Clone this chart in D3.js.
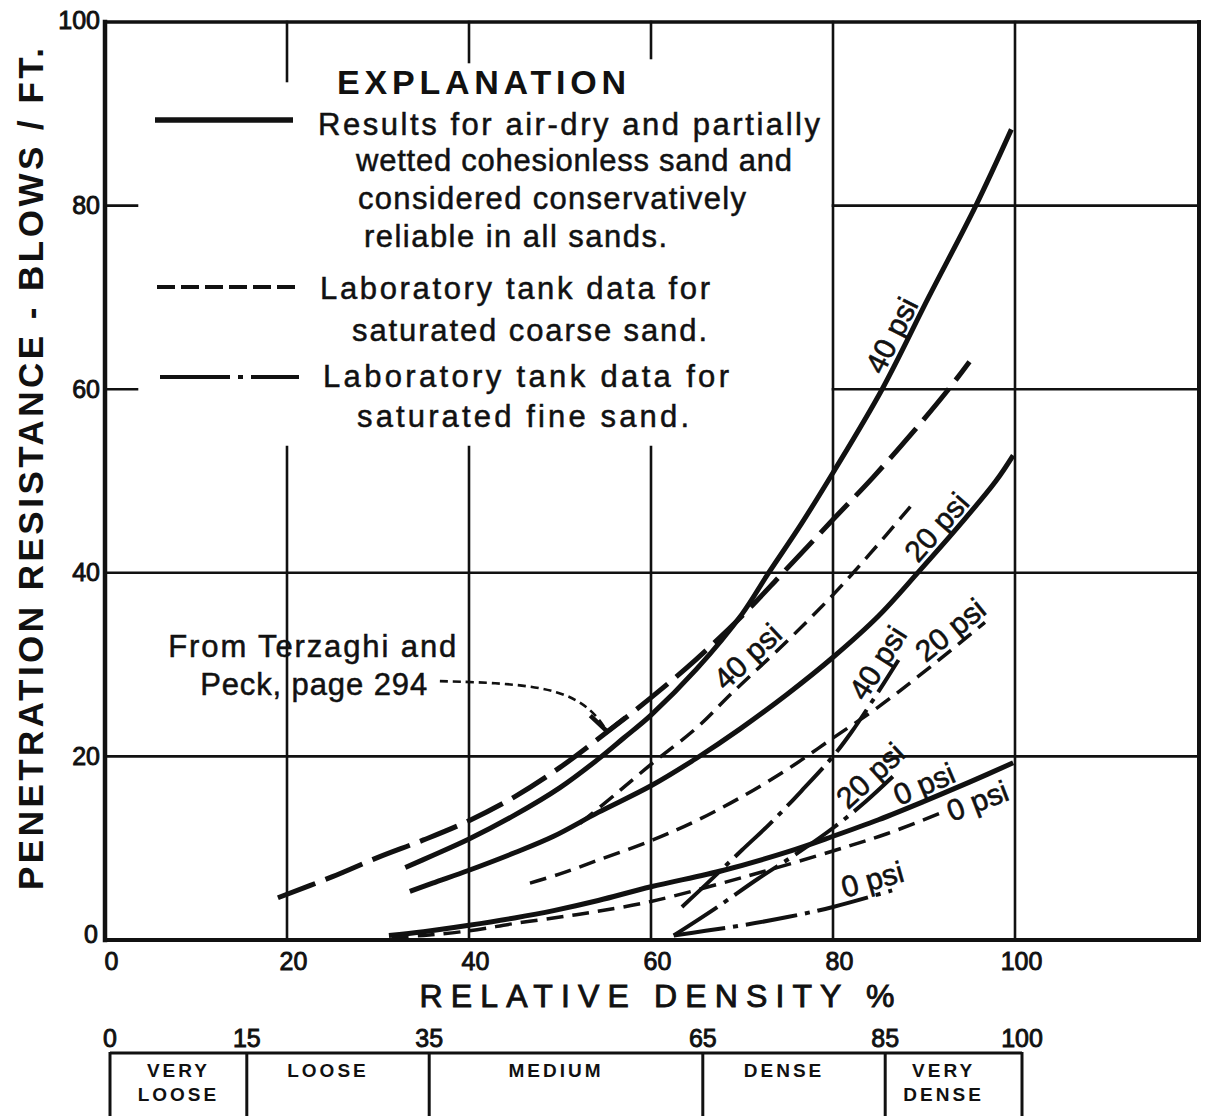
<!DOCTYPE html>
<html><head><meta charset="utf-8">
<script src="https://cdn.jsdelivr.net/npm/d3@7"></script>
<style>
body{margin:0;background:#fff;}
svg{display:block;background:#fff;}
text{font-family:"Liberation Sans",Arial,sans-serif;fill:#111;}
</style></head><body>
<svg id="chart" width="1209" height="1116"></svg>
<script>
// ---------------- DATA ----------------
const xTicks = [0, 20, 40, 60, 80, 100];
const yTicks = [0, 20, 40, 60, 80, 100];

// Air-dry / partially wetted sand (solid)
const solid40 = [[33,7.9],[36,9.2],[40,11],[45,13.6],[50,16.6],[54.2,19.7],[57,22],[60,24.5],[65,29.5],[70,35.5],[72.8,39.8],[76.5,45.3],[80,50.9],[85.4,60],[90.5,70],[95.7,80],[99.6,88.3]];
const solid20 = [[33.5,5.3],[36,6.2],[40,7.6],[45,9.5],[49.3,11.3],[54.2,13.9],[60,16.8],[65,19.8],[69.8,23],[75,26.8],[80,30.8],[85,35.3],[89.4,40.1],[94,45.3],[97.9,50],[99.8,52.8]];
const solid0  = [[31.2,0.5],[35,0.9],[40,1.6],[45,2.4],[49.3,3.2],[54.2,4.3],[60,5.8],[68,7.6],[75,9.6],[80,11.3],[85,13.1],[90,15.1],[95,17.2],[99.8,19.3]];
// Terzaghi and Peck (long dash)
const terzaghi = [[19,4.6],[25,6.9],[30,9],[35,10.9],[40,13],[45,15.6],[50,18.8],[55.1,22.6],[60,26.4],[65,30.6],[70,35.3],[74.5,40],[80,45.8],[84.4,50.4],[88.5,55],[92.7,60],[95,63]];
// Saturated coarse sand (short dash)
const coarse40 = [[52.2,12.7],[56,15.8],[60.2,19.3],[65,23.1],[69,27],[75,32.6],[80,37.6],[84,42],[88.5,47.2]];
const coarse20 = [[46.7,6.2],[50,7.2],[54.2,8.7],[60.2,10.9],[65,13],[69.8,15.5],[75,18.6],[80,22],[85,25.4],[90,29.2],[96.7,34.6]];
const coarse0  = [[31.5,0.3],[35,0.5],[40,1.0],[45,1.8],[50,2.5],[54,3.1],[60,4.2],[70,6.8],[80,9.7],[86,11.6],[92,13.9]];
// Saturated fine sand (dash-dot)
const fine40 = [[63.4,3.6],[66,6],[70,9.8],[73,12.6],[76.5,16.2],[80,20],[82,22.6],[84.5,26.3],[87.2,30.5]];
const fine20 = [[62.5,0.5],[67,3.4],[71.8,6.7],[76,9.4],[80,12.2],[83.5,15],[87,18.2]];
const fine0  = [[62.5,0.5],[66,1.0],[70,1.6],[75,2.5],[80,3.6],[86.5,5.4]];

// curve labels: text, curve, x position along the curve
const curveLabels = [
  {t:"40 psi", s:solid40,  at:88.0},
  {t:"40 psi", s:coarse40, at:71.8},
  {t:"20 psi", s:solid20,  at:92.7},
  {t:"40 psi", s:fine40,   at:86.4},
  {t:"20 psi", s:coarse20, at:94.0},
  {t:"20 psi", s:fine20,   at:85.3},
  {t:"0 psi",  s:solid0,   at:90.7},
  {t:"0 psi",  s:coarse0,  at:95.8, end:true},
  {t:"0 psi",  s:fine0,    at:84.8}
];
const noteLines = ["From Terzaghi and", "Peck, page 294"];
const notePoint = [[38.6,30.8],[35.4,26.7]];
const arrowPath = [[36.8,28.2],[44,28.0],[50,27.2],[53.5,25.2],[55.2,22.7]];

const legendTitle = "EXPLANATION";
const legendSolid = ["Results for air-dry and partially","wetted cohesionless sand and","considered conservatively","reliable in all sands."];
const legendDash  = ["Laboratory tank data for","saturated coarse sand."];
const legendDashDot = ["Laboratory tank data for","saturated fine sand."];

const xTitle = "RELATIVE DENSITY %";
const yTitle = "PENETRATION RESISTANCE - BLOWS / FT.";

const densityTicks = [0, 15, 35, 65, 85, 100];
const densityClasses = [
  {from:0, to:15, lines:["VERY","LOOSE"]},
  {from:15, to:35, lines:["LOOSE"]},
  {from:35, to:65, lines:["MEDIUM"]},
  {from:65, to:85, lines:["DENSE"]},
  {from:85, to:100, lines:["VERY","DENSE"]}
];

// ---------------- DRAW ----------------
const svg = d3.select('#chart');
const x = d3.scaleLinear().domain([0,100]).range([105,1015]);
const y = d3.scaleLinear().domain([0,100]).range([940,22]);
const xR = 1199, INK = "#111";
const FONT = '"Liberation Sans",Arial,sans-serif';

const g = svg.append('g');
function seg(x1,y1,x2,y2,w){
  g.append('line').attr('x1',x1).attr('y1',y1).attr('x2',x2).attr('y2',y2)
   .attr('stroke',INK).attr('stroke-width',w).attr('stroke-linecap','square');
}
// grid
const topStub = {20:81, 40:62, 60:58};
[20,40,60].forEach(v=>{ seg(x(v),y(100),x(v),topStub[v],2.6); seg(x(v),447,x(v),y(0),2.6); });
[80,100].forEach(v=> seg(x(v),y(100),x(v),y(0),2.6));
[80,60].forEach(v=>{ seg(x(0),y(v),137,y(v),2.6); seg(x(80),y(v),xR,y(v),2.6); });
[40,20].forEach(v=> seg(x(0),y(v),xR,y(v),2.6));
// frame
seg(x(0),y(100),xR,y(100),3.5);
seg(xR,y(100),xR,y(0),4);
seg(x(0),y(0),xR,y(0),4);
seg(x(0),y(100),x(0),y(0),4.5);

// axes (labels only)
const ax = svg.append('g').attr('transform',`translate(0,${y(0)})`)
  .call(d3.axisBottom(x).tickValues(xTicks).tickSize(0).tickPadding(12).tickFormat(d3.format('d')));
ax.select('.domain').remove();
ax.selectAll('text').attr('font-size',25).attr('dx',6).style('font-family',FONT).style('fill',INK).style('stroke',INK).style('stroke-width',0.9);
const ay = svg.append('g').attr('transform',`translate(${x(0)},0)`)
  .call(d3.axisLeft(y).tickValues(yTicks).tickSize(0).tickPadding(5).tickFormat(d3.format('d')));
ay.select('.domain').remove();
ay.selectAll('text').attr('font-size',25).style('font-family',FONT).style('fill',INK).style('stroke',INK).style('stroke-width',0.9);
ay.selectAll('.tick').filter(d=>d===0).select('text').attr('dy','0.1em').attr('dx',-2);
ay.selectAll('.tick').filter(d=>d===100).select('text').attr('dy','0.25em');

// titles
svg.append('text').attr('x',657).attr('y',1007).attr('text-anchor','middle')
  .attr('font-size',32).attr('textLength',475).attr('lengthAdjust','spacing')
  .style('stroke',INK).style('stroke-width',0.9).text(xTitle);
svg.append('text').attr('transform','translate(43,469) rotate(-90)').attr('text-anchor','middle')
  .attr('font-size',35).attr('font-weight','bold').attr('textLength',842).attr('lengthAdjust','spacing')
  .text(yTitle);

// curves
const line = d3.line().x(d=>x(d[0])).y(d=>y(d[1])).curve(d3.curveCatmullRom.alpha(0.5));
const curves = svg.append('g').attr('fill','none').attr('stroke',INK).attr('stroke-linecap','butt');
[solid40, solid20, solid0].forEach(s=> curves.append('path').attr('d',line(s)).attr('stroke-width',5));
curves.append('path').attr('d',line(terzaghi)).attr('stroke-width',5).attr('stroke-dasharray','40 11');
[coarse40, coarse20, coarse0].forEach(s=> curves.append('path').attr('d',line(s)).attr('stroke-width',3.5).attr('stroke-dasharray','17 9'));
[fine40, fine20, fine0].forEach(s=> curves.append('path').attr('d',line(s)).attr('stroke-width',4).attr('stroke-dasharray','52 8 5 8'));

// curve labels: placed beside their curve, rotated along local slope
function curvePoint(s, xv){
  let i = 0;
  while (i < s.length-2 && s[i+1][0] < xv) i++;
  const a = s[i], b = s[i+1];
  const t = (xv - a[0])/(b[0]-a[0]);
  const px = x(a[0]) + t*(x(b[0])-x(a[0]));
  const py = y(a[1]) + t*(y(b[1])-y(a[1]));
  const ang = Math.atan2(y(b[1])-y(a[1]), x(b[0])-x(a[0]));
  return {px, py, ang};
}
const lab = svg.append('g');
curveLabels.forEach(d=>{
  const p = curvePoint(d.s, d.at);
  const deg = p.ang*180/Math.PI;
  lab.append('text')
    .attr('transform',`translate(${p.px},${p.py}) rotate(${deg})`)
    .attr('x',0).attr('y', d.end ? 2 : -16)
    .attr('text-anchor','middle').attr('dominant-baseline','central')
    .attr('font-size',30).style('stroke',INK).style('stroke-width',0.6)
    .text(d.t);
});

// note with arrow
svg.append('g').selectAll('text').data(noteLines).join('text')
  .attr('x',(d,i)=>x(notePoint[i][0])).attr('y',(d,i)=>y(notePoint[i][1]))
  .attr('text-anchor','end').attr('font-size',31).style('stroke',INK).style('stroke-width',0.5)
  .attr('textLength',(d,i)=>i===0?288:227).attr('lengthAdjust','spacing')
  .text(d=>d);
const aline = d3.line().x(d=>x(d[0])).y(d=>y(d[1])).curve(d3.curveBasis);
svg.append('path').attr('d',aline(arrowPath)).attr('fill','none').attr('stroke',INK)
  .attr('stroke-width',2.6).attr('stroke-dasharray','8 5');
const tip = arrowPath[arrowPath.length-1];
const tx = x(tip[0]), ty = y(tip[1]);
svg.append('path').attr('d',`M${tx-17},${ty-16}L${tx},${ty}L${tx+18},${ty-14}`)
  .attr('fill','none').attr('stroke',INK).attr('stroke-width',4.5);

// legend
const lg = svg.append('g');
lg.append('text').attr('x',337).attr('y',94).attr('font-size',34).attr('font-weight','bold')
  .attr('textLength',289).attr('lengthAdjust','spacing').text(legendTitle);
lg.append('line').attr('x1',155).attr('x2',293).attr('y1',120).attr('y2',120).attr('stroke',INK).attr('stroke-width',5.5);
lg.append('line').attr('x1',157).attr('x2',295).attr('y1',287).attr('y2',287).attr('stroke',INK).attr('stroke-width',4).attr('stroke-dasharray','18 6');
lg.append('line').attr('x1',160).attr('x2',299).attr('y1',377).attr('y2',377).attr('stroke',INK).attr('stroke-width',4).attr('stroke-dasharray','70 8 5 8');
const legendRows = [
  {t:legendSolid[0], x:318, y:135, w:502},
  {t:legendSolid[1], x:356, y:171, w:436},
  {t:legendSolid[2], x:358, y:209, w:388},
  {t:legendSolid[3], x:364, y:247, w:303},
  {t:legendDash[0], x:320, y:299, w:390},
  {t:legendDash[1], x:352, y:341, w:355},
  {t:legendDashDot[0], x:323, y:387, w:406},
  {t:legendDashDot[1], x:357, y:427, w:332}
];
lg.selectAll('text.row').data(legendRows).join('text').attr('class','row')
  .attr('x',d=>d.x).attr('y',d=>d.y).attr('font-size',31)
  .attr('textLength',d=>d.w).attr('lengthAdjust','spacing')
  .style('stroke',INK).style('stroke-width',0.5)
  .text(d=>d.t);

// density classification scale
const xd = d3.scaleLinear().domain([0,100]).range([110,1022]);
const dg = svg.append('g');
dg.selectAll('text.num').data(densityTicks).join('text').attr('class','num')
  .attr('x',d=>xd(d)).attr('y',1047).attr('text-anchor','middle').attr('font-size',25)
  .style('stroke',INK).style('stroke-width',0.9).text(d=>d);
dg.append('line').attr('x1',xd(0)).attr('x2',xd(100)).attr('y1',1053).attr('y2',1053).attr('stroke',INK).attr('stroke-width',3);
densityTicks.forEach(v=> dg.append('line').attr('x1',xd(v)).attr('x2',xd(v)).attr('y1',1052).attr('y2',1120).attr('stroke',INK).attr('stroke-width',3));
densityClasses.forEach((c,i)=>{
  const cx = (xd(c.from)+xd(c.to))/2 - (i===0?0:10);
  c.lines.forEach((t,j)=>{
    dg.append('text').attr('x',cx).attr('y',1077+j*24).attr('text-anchor','middle')
      .attr('font-size',19).attr('font-weight','bold').attr('letter-spacing',3).text(t);
  });
});
</script>
</body></html>
